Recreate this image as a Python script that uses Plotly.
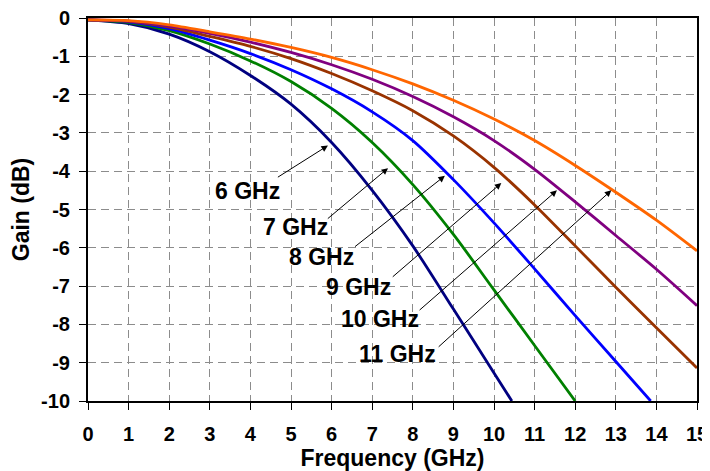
import plotly.graph_objects as go

# ---------------- data ----------------
series_names = ["6 GHz", "7 GHz", "8 GHz", "9 GHz", "10 GHz", "11 GHz"]

freq_6 = [0, 1, 2, 3, 4, 5, 6, 7, 8, 9, 10, 10.44]
gain_6 = [-0.05, -0.15, -0.42, -0.88, -1.5, -2.25, -3.25, -4.5, -5.95, -7.6, -9.27, -10.0]

freq_7 = [0, 1, 2, 3, 4, 5, 6, 7, 8, 9, 10, 11, 12]
gain_7 = [-0.05, -0.12, -0.33, -0.68, -1.12, -1.66, -2.36, -3.25, -4.35, -5.65, -7.1, -8.55, -10.0]

freq_8 = [0, 1, 2, 3, 4, 5, 6, 7, 8, 9, 10, 11, 12, 13, 13.86]
gain_8 = [-0.05, -0.1, -0.28, -0.58, -0.93, -1.35, -1.85, -2.45, -3.2, -4.22, -5.35, -6.55, -7.77, -8.97, -10.0]

freq_9 = [0, 1, 2, 3, 4, 5, 6, 7, 8, 9, 10, 11, 12, 13, 14, 15]
gain_9 = [-0.05, -0.09, -0.24, -0.48, -0.74, -1.06, -1.45, -1.9, -2.42, -3.08, -3.9, -4.88, -5.95, -7.03, -8.09, -9.14]

freq_10 = [0, 1, 2, 3, 4, 5, 6, 7, 8, 9, 10, 11, 12, 13, 14, 15]
gain_10 = [-0.05, -0.08, -0.21, -0.4, -0.63, -0.9, -1.22, -1.6, -2.05, -2.58, -3.2, -3.95, -4.8, -5.68, -6.56, -7.51]

freq_11 = [0, 1, 2, 3, 4, 5, 6, 7, 8, 9, 10, 11, 12, 13, 14, 15]
gain_11 = [-0.05, -0.07, -0.18, -0.36, -0.55, -0.77, -1.03, -1.35, -1.72, -2.15, -2.64, -3.2, -3.85, -4.55, -5.28, -6.08]

x_tick_values = list(range(0, 16))
x_tick_labels = [str(v) for v in x_tick_values]
y_tick_values = list(range(0, -11, -1))
y_tick_labels = ["0", "-1", "-2", "-3", "-4", "-5", "-6", "-7", "-8", "-9", "-10"]

# ---------------- styles ----------------
colors = ["#000080", "#008000", "#0000FF", "#993300", "#800080", "#FF6600"]
FONT = "Liberation Sans, Arial, sans-serif"

fig = go.Figure()
all_series = [(freq_6, gain_6), (freq_7, gain_7), (freq_8, gain_8),
              (freq_9, gain_9), (freq_10, gain_10), (freq_11, gain_11)]
for (fx, gy), name, col in zip(all_series, series_names, colors):
    fig.add_trace(go.Scatter(x=fx, y=gy, mode="lines", name=name,
                             line=dict(color=col, width=2.8, shape="spline", smoothing=0.8),
                             showlegend=False))

# label annotations: (text center, arrow tail, arrow tip) in data coordinates
label_layout = [
    ((3.92, -4.51), (4.64, -4.18), (5.91, -3.33)),
    ((5.12, -5.46), (5.87, -5.27), (7.39, -3.92)),
    ((5.74, -6.25), (6.54, -6.00), (8.79, -4.12)),
    ((6.67, -7.03), (7.47, -6.79), (10.18, -4.31)),
    ((7.18, -7.85), (8.13, -7.66), (11.55, -4.50)),
    ((7.62, -8.77), (8.60, -8.62), (12.89, -4.50)),
]
for name, (center, tail, tip) in zip(series_names, label_layout):
    fig.add_annotation(x=tip[0], y=tip[1], ax=tail[0], ay=tail[1],
                       xref="x", yref="y", axref="x", ayref="y",
                       text="", showarrow=True, arrowhead=2, arrowsize=1.3,
                       arrowwidth=1, arrowcolor="black")
    fig.add_annotation(x=center[0], y=center[1], xref="x", yref="y",
                       text="<b>%s</b>" % name, showarrow=False,
                       font=dict(family=FONT, size=23, color="black"))

axis_common = dict(
    showline=True, linecolor="black", linewidth=2, mirror=True,
    showgrid=True, gridcolor="#8c8c8c", gridwidth=1, griddash="8px,5px",
    zeroline=False, ticks="outside", ticklen=7, tickwidth=1, tickcolor="black",
    tickfont=dict(family=FONT, size=20, color="black"), automargin=False,
    ticklabeloverflow="allow",
)

fig.update_xaxes(range=[0, 15], tickvals=x_tick_values, ticktext=["<b>%s</b>" % t for t in x_tick_labels],
                 ticklabelstandoff=7,
                 title=dict(text="<b>Frequency (GHz)</b>", standoff=4,
                            font=dict(family=FONT, size=23, color="black")),
                 **axis_common)
fig.update_yaxes(range=[-10, 0], tickvals=y_tick_values, ticktext=["<b>%s</b>" % t for t in y_tick_labels],
                 ticklabelstandoff=5,
                 title=dict(text="<b>Gain (dB)</b>", standoff=16,
                            font=dict(family=FONT, size=23, color="black")),
                 **axis_common)

# the page body adds an 8px offset, so the figure is 8px smaller than the window
fig.update_layout(width=702, height=463,
                  margin=dict(l=80, r=13, t=10, b=70),
                  paper_bgcolor="white", plot_bgcolor="white",
                  font=dict(family=FONT, color="black"))

fig.write_html("out.html")
